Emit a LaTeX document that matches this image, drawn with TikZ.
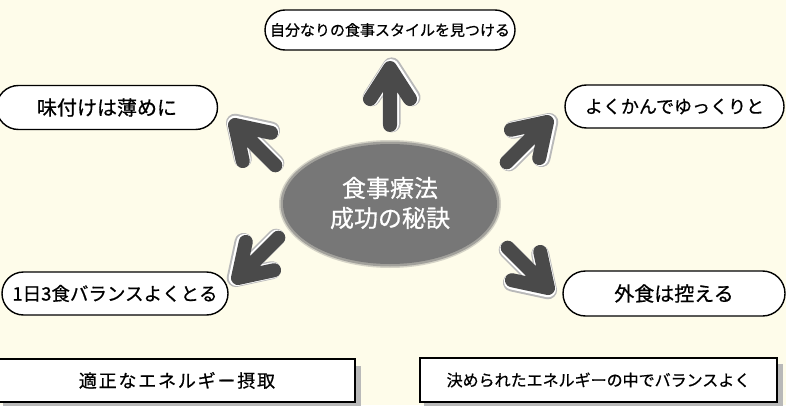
\documentclass[tikz,border=0pt]{standalone}
\usepackage{fontspec}
\newfontfamily\jp[FakeBold=0.7]{Noto Sans CJK JP}
\usetikzlibrary{shapes.geometric,shapes.misc}
\definecolor{bg}{HTML}{FEFCEA}
\definecolor{arrowgray}{HTML}{4A4A4A}
\definecolor{ellgray}{HTML}{777777}
\tikzset{
  pill/.style={rounded rectangle, draw=black, line width=1.4pt, fill=white, inner sep=0pt, font=\jp},
  boxnode/.style={rectangle, draw=black, line width=1.3pt, fill=white, inner sep=0pt, font=\jp},
  bigarrow/.pic={
    \foreach \col/\wid/\sh in {gray!55/18/1.6, white/16/0.9, arrowgray/14/0}{
      \draw[line width=\wid pt, \col, line cap=round, line join=round, shift={(\sh,-\sh)}]
        (-57,0) -- (0,0) (-31,20) -- (0,0) -- (-31,-20);
    }
  }
}
\begin{document}
\begin{tikzpicture}[x=1pt,y=1pt]
\useasboundingbox (0,0) rectangle (786,405);
\fill[bg] (0,0) rectangle (786,405);

% central ellipse with soft edge
\fill[ellgray, opacity=0.3] (390,201) ellipse [x radius=111, y radius=64];
\fill[ellgray, opacity=0.55] (390,201) ellipse [x radius=109.5, y radius=62.5];
\node[ellipse, fill=ellgray, minimum width=214pt, minimum height=120pt, inner sep=0pt] (center) at (390,201) {};
\node[font=\jp\fontsize{24}{30}\selectfont, text=white, align=center] (title) at (390,202) {食事療法\\成功の秘訣};

% pills
\node[pill, minimum width=250pt, minimum height=40pt] (top) at (390,375)
  {\fontsize{15}{18}\selectfont 自分なりの食事スタイルを見つける};
\node[pill, minimum width=221pt, minimum height=44pt] (ul) at (107,297.5)
  {\fontsize{20}{24}\selectfont 味付けは薄めに};
\node[pill, minimum width=219pt, minimum height=43pt] (ur) at (674.5,298.5)
  {\fontsize{18}{22}\selectfont よくかんでゆっくりと};
\node[pill, minimum width=226pt, minimum height=43pt] (ll) at (115,111.5)
  {\fontsize{18.5}{22}\selectfont 1日3食バランスよくとる};
\node[pill, minimum width=222pt, minimum height=45pt] (lr) at (674,111.5)
  {\fontsize{20}{24}\selectfont 外食は控える};

% bottom boxes with shadow
\fill[gray!55] (3,-1) rectangle (361,39);
\node[boxnode, minimum width=356pt, minimum height=43pt] (bl) at (177,24.5)
  {\addfontfeature{LetterSpace=10}\fontsize{18}{22}\selectfont 適正なエネルギー摂取};
\fill[gray!55] (424,-1) rectangle (783,41);
\node[boxnode, minimum width=357pt, minimum height=44pt] (br) at (598.5,25)
  {\fontsize{16}{20}\selectfont 決められたエネルギーの中でバランスよく};

% arrows
\pic[rotate=90] at (390,337) {bigarrow};
\pic[rotate=45] at (547,283) {bigarrow};
\pic[rotate=135] at (235,280) {bigarrow};
\pic[rotate=225] at (238,127) {bigarrow};
\pic[rotate=315] at (548,117) {bigarrow};
\end{tikzpicture}
\end{document}
